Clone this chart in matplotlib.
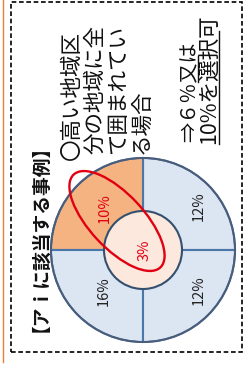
import matplotlib
matplotlib.use("Agg")
import matplotlib.pyplot as plt
from matplotlib.patches import Circle, Ellipse, Rectangle

plt.rcParams['font.family'] = ['Noto Sans CJK JP', 'DejaVu Sans']

# data
quadrant_sizes = [1, 1, 1, 1]              # top-right, top-left, bottom-left, bottom-right
quadrant_labels = ['12%', '10%', '16%', '12%']
quadrant_highlight = [False, True, False, False]
inner_label = '3%'
title = '【アｉに該当する事例】'
body_lines = ['〇高い地域区', '分の地域に全', 'て囲まれてい', 'る場合']
result_head = '⇒６％'
result_mid = '又は'
result_line2 = '10%を選択可'

# colours
blue = '#DCE5F2'
orange = '#F6B382'
peach = '#FCE8DC'
line_col = '#4A76A8'
red = '#E00012'

fig = plt.figure(figsize=(2.44, 3.69), dpi=100)
ax = fig.add_axes([0, 0, 1, 1])

cx, cy = 143, 119
r_out, r_in = 92, 39

colors = [orange if h else blue for h in quadrant_highlight]
ax.pie(quadrant_sizes, colors=colors, radius=r_out, center=(cx, cy),
       startangle=0, counterclock=True,
       wedgeprops=dict(edgecolor=line_col, linewidth=1.5))
ax.add_patch(Circle((cx, cy), r_out, fill=False, ec='#4B5C78', lw=1.4, zorder=3))
ax.add_patch(Circle((cx, cy), r_in, fc=peach, ec='#34506E', lw=1.5, zorder=3))

# label offsets from centre (layout)
label_pos = [(56, 44), (-38, 42), (-39, -41), (56, -40)]
for lab, (dx, dy), h in zip(quadrant_labels, label_pos, quadrant_highlight):
    ax.text(cx + dx, cy + dy, lab, rotation=90, ha='center', va='center',
            fontsize=10.5, color=red if h else '#222222', zorder=5)
ax.text(cx + 2, cy, inner_label, rotation=90, ha='center', va='center',
        fontsize=10.5, color=red, zorder=5)

ax.add_patch(Ellipse((117, 148), 127, 54, angle=-47, fill=False,
                     ec=red, lw=1.7, zorder=6))

# texts
ax.text(31, 37, title, rotation=90, ha='center', va='bottom',
        fontsize=13.5, fontweight='bold', color='#111111')
col_x = [72, 95, 118, 141]
col_y = [209, 215, 215, 215]
for s, x, y in zip(body_lines, col_x, col_y):
    ax.text(x, y, s, rotation=90, ha='center', va='bottom',
            fontsize=15.5, color='#111111')

ax.text(190, 227, result_head + result_mid, rotation=90, ha='center',
        va='bottom', fontsize=14.5, color='#111111')
ax.plot([198, 198], [287, 313], color='#111111', lw=1.0)
ax.text(210, 225, result_line2, rotation=90, ha='center', va='bottom',
        fontsize=15.5, color='#111111')
ax.plot([218.5, 218.5], [225, 338], color='#111111', lw=1.0)

# frame
ax.add_patch(Rectangle((11, 17), 231, 350, fill=False, ec='black', lw=1.2,
                       linestyle=(0, (2.8, 1.6)), zorder=7))
ax.plot([3, 3], [7, 369], color='#ED7D31', lw=1.0)

ax.set_xlim(0, 244)
ax.set_ylim(0, 369)
ax.set_aspect('equal')
ax.set_axis_off()

fig.savefig('out.png', dpi=100)
